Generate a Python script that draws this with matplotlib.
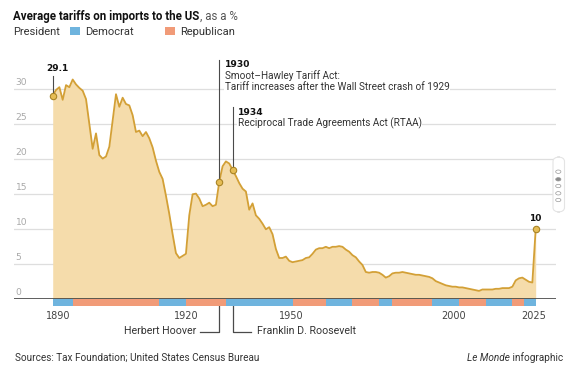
import matplotlib
matplotlib.use("Agg")
import matplotlib.pyplot as plt
from matplotlib.patches import Rectangle, FancyBboxPatch, Circle
from matplotlib.transforms import offset_copy

plt.rcParams['font.family'] = ['Roboto', 'DejaVu Sans']

# ---------------- data ----------------
years = list(range(1880, 2026))
tariff = [
    29.1, 29.9, 30.3, 28.5, 30.6, 30.3, 31.4, 30.7, 30.2, 29.8,   # 1880s
    28.6, 25.0, 21.5, 23.7, 20.6, 20.1, 20.4, 21.8, 25.5, 29.3,   # 1890s
    27.5, 28.8, 27.9, 27.7, 26.3, 23.9, 24.1, 23.3, 23.9, 23.0,   # 1900s
    21.7, 19.8, 18.2, 17.2, 14.8, 12.2, 9.3, 6.6, 5.9, 6.2,       # 1910s
    6.5, 12.0, 15.0, 15.1, 14.4, 13.3, 13.5, 13.8, 13.3, 13.5,    # 1920s
    16.8, 19.0, 19.7, 19.4, 18.5, 17.6, 16.6, 15.8, 15.4, 12.8,   # 1930s
    13.7, 12.0, 11.5, 10.8, 10.0, 10.3, 9.3, 7.2, 5.9, 5.9,       # 1940s
    6.1, 5.5, 5.3, 5.4, 5.5, 5.6, 5.9, 6.0, 6.5, 7.1,             # 1950s
    7.3, 7.3, 7.5, 7.3, 7.5, 7.5, 7.6, 7.5, 7.1, 6.8,             # 1960s
    6.3, 6.0, 5.4, 4.9, 3.9, 3.8, 3.9, 3.9, 3.8, 3.5,             # 1970s
    3.1, 3.3, 3.7, 3.8, 3.8, 3.9, 3.8, 3.7, 3.6, 3.5,             # 1980s
    3.5, 3.4, 3.3, 3.2, 3.0, 2.6, 2.4, 2.2, 2.0, 1.9,             # 1990s
    1.8, 1.8, 1.7, 1.7, 1.6, 1.5, 1.4, 1.3, 1.2, 1.4,             # 2000s
    1.4, 1.4, 1.4, 1.5, 1.5, 1.6, 1.6, 1.6, 1.8, 2.7,             # 2010s
    3.0, 3.1, 2.8, 2.5, 2.4, 10.0,                                # 2020s
]

# presidency bands (start, end, party) as drawn in the reference
pres_start = [1880, 1886, 1912, 1920, 1932, 1952, 1962, 1970, 1978, 1982, 1994, 2002, 2010, 2018, 2021.5]
pres_end   = [1886, 1912, 1920, 1932, 1952, 1962, 1970, 1978, 1982, 1994, 2002, 2010, 2018, 2021.5, 2025]
pres_party = ['D', 'R', 'D', 'R', 'D', 'R', 'D', 'R', 'D', 'R', 'D', 'R', 'D', 'R', 'D']

yticks = [0, 5, 10, 15, 20, 25, 30]
xtick_labels = ['1890', '1920', '1950', '2000', '2025']
xtick_pos = [1881.7, 1920.0, 1951.7, 2000.3, 2024.3]

highlight_years = [1880, 1930, 1934, 2025]

# ---------------- style ----------------
FILL = '#f5dcab'
LINE = '#d3a036'
BLUE = '#6fb4de'
RED = '#f19b78'
MK_FACE = '#e6bd55'
MK_EDGE = '#a98426'

W, H = 578, 377
fig = plt.figure(figsize=(W / 100, H / 100), dpi=100)


def fx(px):
    return px / W


def fy(py):
    return 1 - py / H


ax = fig.add_axes([fx(14), fy(299.3), fx(556) - fx(14), fy(50) - fy(299.3)])
ax.set_xlim(1868.38, 2031.1)
ax.set_ylim(0, (299.3 - 50) / 7)
ax.axis('off')

# grid
for v in yticks[1:]:
    ax.axhline(v, color='#dedede', lw=0.9, zorder=0)
ylab_tr = offset_copy(ax.get_yaxis_transform(), fig=fig, x=1.5, y=4.5, units='dots')
for v in yticks:
    ax.text(0, v, str(v), transform=ylab_tr, ha='left', va='baseline',
            fontsize=6.6, color='#a8a8a8', family='DejaVu Sans')

# area + line
ax.fill_between(years, tariff, 0, color=FILL, lw=0, zorder=1)
ax.plot(years, tariff, color=LINE, lw=1.3, zorder=3, solid_joinstyle='round')

# baseline
ax.axhline(0, color='#333333', lw=1.1, zorder=6)

# president band under the axis
for s, e, p in zip(pres_start, pres_end, pres_party):
    ax.add_patch(Rectangle((s, -1.0), e - s, 1.0, facecolor=BLUE if p == 'D' else RED,
                           edgecolor='none', clip_on=False, zorder=5))

# x tick labels
xlab_tr = offset_copy(ax.get_xaxis_transform(), fig=fig, x=0, y=-(319 - 299.3), units='dots')
for p, l in zip(xtick_pos, xtick_labels):
    ax.text(p, 0, l, transform=xlab_tr, ha='center', va='baseline',
            fontsize=7, color='#444444', family='DejaVu Sans')

# highlighted points
hv = [tariff[years.index(y)] for y in highlight_years]

# leader lines
ANN = '#4a4a4a'
ax.plot([1880, 1880], [hv[0], (299.3 - 76) / 7], color=ANN, lw=0.8, zorder=4)
ax.plot([1930, 1930], [hv[1], (299.3 - 60) / 7], color=ANN, lw=0.8, zorder=4)
ax.plot([1934, 1934], [hv[2], (299.3 - 107.3) / 7], color=ANN, lw=0.8, zorder=4)

ax.plot(highlight_years, hv, ls='none', marker='o', ms=4.6, mfc=MK_FACE, mec=MK_EDGE,
        mew=0.8, zorder=7)

# value labels
ax.annotate('29.1', xy=(1880, (299.3 - 70.7) / 7), xytext=(-6.7, 0), textcoords='offset pixels',
            ha='left', va='baseline', fontsize=6.5, fontweight='bold', color='#111111',
            family='DejaVu Sans')
ax.annotate('10', xy=(2025, hv[3]), xytext=(0, 8.3), textcoords='offset pixels',
            ha='center', va='baseline', fontsize=6.5, fontweight='bold', color='#111111',
            family='DejaVu Sans')

# event annotations
AFS = 7.2
bb = dict(facecolor='white', edgecolor='none', pad=0.6)
ax.annotate('1930', xy=(1930, (299.3 - 67.3) / 7), xytext=(5.3, 0), textcoords='offset pixels',
            ha='left', va='baseline', fontsize=6.6, fontweight='bold', color='#111111',
            family='DejaVu Sans')
ax.annotate('Smoot–Hawley Tariff Act:', xy=(1930, (299.3 - 79.3) / 7), xytext=(5.3, 0),
            textcoords='offset pixels', ha='left', va='baseline', fontsize=AFS, color='#333333',
            bbox=bb)
ax.annotate('Tariff increases after the Wall Street crash of 1929', xy=(1930, (299.3 - 90) / 7),
            xytext=(5.3, 0), textcoords='offset pixels', ha='left', va='baseline', fontsize=AFS,
            color='#333333', bbox=bb)
ax.annotate('1934', xy=(1934, (299.3 - 115) / 7), xytext=(5.0, 0), textcoords='offset pixels',
            ha='left', va='baseline', fontsize=6.6, fontweight='bold', color='#111111',
            family='DejaVu Sans')
ax.annotate('Reciprocal Trade Agreements Act (RTAA)', xy=(1934, (299.3 - 126) / 7), xytext=(5.0, 0),
            textcoords='offset pixels', ha='left', va='baseline', fontsize=AFS, color='#333333',
            bbox=bb)

# presidents below the band
yb = -1.0
ylow = -(331.7 - 299.3) / 7
ax.plot([1930, 1930, 1930 - 19 / 3.331], [yb, ylow, ylow], color=ANN, lw=0.9, clip_on=False)
ax.plot([1934, 1934, 1934 + 18.4 / 3.331], [yb, ylow, ylow], color=ANN, lw=0.9, clip_on=False)
ax.annotate('Herbert Hoover', xy=(1930, -(334 - 299.3) / 7), xytext=(-23, 0),
            textcoords='offset pixels', ha='right', va='baseline', fontsize=7.7,
            color='#333333', annotation_clip=False)
ax.annotate('Franklin D. Roosevelt', xy=(1934, -(334 - 299.3) / 7), xytext=(24.7, 0),
            textcoords='offset pixels', ha='left', va='baseline', fontsize=7.7,
            color='#333333', annotation_clip=False)

# ---------------- title / legend ----------------
renderer = fig.canvas.get_renderer()
t1 = fig.text(fx(13.3), fy(20), 'Average tariffs on imports to the US', fontsize=8.3,
              fontweight='bold', color='#111111', va='baseline', ha='left')
ext = t1.get_window_extent(renderer)
fig.text(ext.x1 / W, fy(20), ', as a %', fontsize=8.3, color='#555555', va='baseline', ha='left')

fig.text(fx(13.3), fy(35), 'President', fontsize=8.0, color='#333333', va='baseline', ha='left')
fig.patches.append(Rectangle((fx(70), fy(35.3)), fx(10.3), 7.8 / H, transform=fig.transFigure,
                             facecolor=BLUE, edgecolor='none'))
fig.text(fx(85), fy(35), 'Democrat', fontsize=8.0, color='#333333', va='baseline', ha='left')
fig.patches.append(Rectangle((fx(165), fy(35.3)), fx(10.3), 7.8 / H, transform=fig.transFigure,
                             facecolor=RED, edgecolor='none'))
fig.text(fx(180), fy(35), 'Republican', fontsize=8.0, color='#333333', va='baseline', ha='left')

# ---------------- footer ----------------
fig.text(fx(15), fy(361), 'Sources: Tax Foundation; United States Census Bureau', fontsize=7.2,
         color='#333333', va='baseline', ha='left')
t2 = fig.text(fx(563), fy(361), ' infographic', fontsize=7.2, color='#333333', va='baseline', ha='right')
ext2 = t2.get_window_extent(renderer)
fig.text(ext2.x0 / W, fy(361), 'Le Monde', fontsize=7.2, style='italic', color='#333333',
         va='baseline', ha='right')

# ---------------- carousel widget ----------------
fig.patches.append(FancyBboxPatch((fx(553), fy(212)), fx(11.5), 55 / H, transform=fig.transFigure,
                                  boxstyle='round,pad=0,rounding_size=0.012', facecolor='white',
                                  edgecolor='#e4e4e4', lw=0.8))
for i, yy in enumerate([171.7, 179.3, 186.0, 193.3, 200.0]):
    fig.patches.append(Circle((fx(558.3), fy(yy)), 2.6 / W, transform=fig.transFigure,
                              facecolor='#8a8a8a' if i == 1 else 'white',
                              edgecolor='#9a9a9a', lw=0.5))

fig.savefig('out.png', dpi=100)
